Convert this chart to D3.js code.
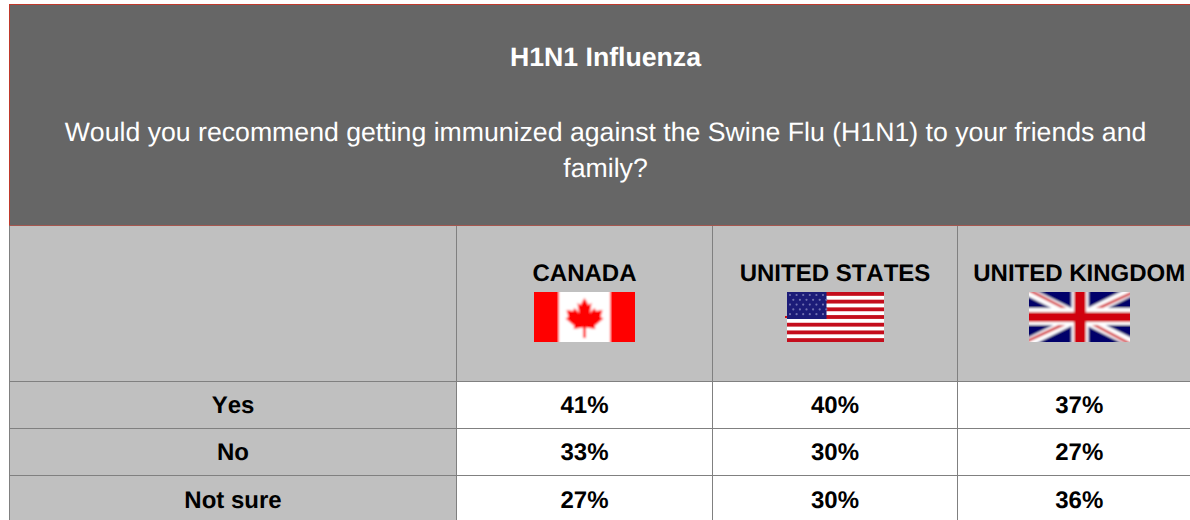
<!DOCTYPE html>
<html>
<head>
<meta charset="utf-8">
<title>H1N1 Influenza</title>
<style>
html, body { margin: 0; padding: 0; background: #fff; overflow: hidden; }
svg { display: block; }
text { font-family: "Liberation Sans", Arial, sans-serif; text-anchor: middle; text-rendering: geometricPrecision; font-kerning: none; }
.title { fill: #fff; font-size: 26.67px; font-weight: bold; }
.question { fill: #fff; font-size: 26.67px; }
.head, .label, .value { fill: #000; font-weight: bold; font-size: 24px; }
</style>
</head>
<body>
<script src="https://cdn.jsdelivr.net/npm/d3@7/dist/d3.min.js"></script>
<script>

var title = "H1N1 Influenza";
var questionLines = ["Would you recommend getting immunized against the Swine Flu (H1N1) to your friends and", "family?"];
var countries = ["CANADA", "UNITED STATES", "UNITED KINGDOM"];
var answers = ["Yes", "No", "Not sure"];
var canada = [41, 33, 27];
var unitedStates = [40, 30, 30];
var unitedKingdom = [37, 27, 36];

var width = 1190,
    height = 520;

var values = [canada, unitedStates, unitedKingdom];

// column and row edges of the table
var colEdges = [9.5, 456.5, 712.5, 957.5, 1201];
var rowEdges = [381.5, 428.5, 475.5, 522.5];

var xCol = d3.scaleOrdinal().domain(countries).range(colEdges.slice(1));
var xEnd = d3.scaleOrdinal().domain(countries).range(colEdges.slice(2));
var yRow = d3.scaleBand().domain(answers).range([rowEdges[0], rowEdges[3]]);
// text baselines do not sit evenly in the rows
var yText = d3.scaleOrdinal().domain(answers).range([413, 460, 508]);

var svg = d3.select("body").append("svg")
    .attr("width", width)
    .attr("height", height);

var defs = svg.append("defs");
defs.append("filter").attr("id", "soft")
    .attr("x", "-2%").attr("y", "-2%").attr("width", "104%").attr("height", "104%")
  .append("feGaussianBlur").attr("stdDeviation", 0.8);
defs.append("filter").attr("id", "softer")
    .attr("x", "-2%").attr("y", "-2%").attr("width", "104%").attr("height", "104%")
  .append("feGaussianBlur").attr("stdDeviation", 0.6);

// clip the blur so the flag edges stay sharp
function flagClip(id, x, w) {
  defs.append("clipPath").attr("id", id)
    .append("rect").attr("x", x).attr("y", 292).attr("width", w).attr("height", 50);
}
flagClip("clipCa", 534, 101);
flagClip("clipUs", 787, 97);
flagClip("clipUk", 1029, 101);

// header band
svg.append("rect").attr("x", 9).attr("y", 4).attr("width", width - 9).attr("height", 222).attr("fill", "#666");
svg.append("rect").attr("x", 9).attr("y", 226).attr("width", width - 9).attr("height", height - 226).attr("fill", "#c0c0c0");

svg.append("text").attr("class", "title").attr("x", 605.5).attr("y", 66).text(title);

svg.selectAll(".question").data(questionLines).enter().append("text")
    .attr("class", "question")
    .attr("x", 605.5)
    .attr("y", function(d, i) { return 141 + i * 36; })
    .text(function(d) { return d; });

// white value cells
countries.forEach(function(c, i) {
  svg.selectAll(".cell" + i).data(answers).enter().append("rect")
      .attr("class", "cell" + i)
      .attr("x", xCol(c))
      .attr("y", function(d) { return yRow(d); })
      .attr("width", xEnd(c) - xCol(c))
      .attr("height", yRow.bandwidth())
      .attr("fill", "#fff");
});

// grid lines
var grid = svg.append("g").attr("stroke", "#808080").attr("stroke-width", 1);
rowEdges.slice(0, 3).forEach(function(y) {
  grid.append("line").attr("x1", 9).attr("x2", width).attr("y1", y).attr("y2", y);
});
colEdges.slice(1, 4).forEach(function(x) {
  grid.append("line").attr("x1", x).attr("x2", x).attr("y1", 226).attr("y2", height);
});

// red edges
svg.append("rect").attr("x", 9).attr("y", 4).attr("width", width - 9).attr("height", 1).attr("fill", "#c0392b");
svg.append("rect").attr("x", 9).attr("y", 4).attr("width", 1).attr("height", 222).attr("fill", "#c0392b");
svg.append("rect").attr("x", 9).attr("y", 225).attr("width", width - 9).attr("height", 1).attr("fill", "#a5574f");
svg.append("rect").attr("x", 9).attr("y", 226).attr("width", 1).attr("height", height - 226).attr("fill", "#808080");

// column heads
svg.selectAll(".head").data(countries).enter().append("text")
    .attr("class", "head")
    .attr("x", function(d) { return (xCol(d) + xEnd(d)) / 2; })
    .attr("y", 281)
    .text(function(d) { return d; });

// row labels
svg.selectAll(".label").data(answers).enter().append("text")
    .attr("class", "label")
    .attr("x", (colEdges[0] + colEdges[1]) / 2)
    .attr("y", function(d) { return yText(d); })
    .text(function(d) { return d; });

// percent values
countries.forEach(function(c, i) {
  svg.selectAll(".value" + i).data(values[i]).enter().append("text")
      .attr("class", "value value" + i)
      .attr("x", (xCol(c) + xEnd(c)) / 2)
      .attr("y", function(d, j) { return yText(answers[j]); })
      .text(function(d) { return d + "%"; });
});

// flags
var ca = svg.append("g").attr("clip-path", "url(#clipCa)").append("g").attr("filter", "url(#soft)");
ca.append("rect").attr("x", 530).attr("y", 288).attr("width", 109).attr("height", 58).attr("fill", "#fff");
ca.append("rect").attr("x", 530).attr("y", 288).attr("width", 29).attr("height", 58).attr("fill", "#f00");
ca.append("rect").attr("x", 610).attr("y", 288).attr("width", 29).attr("height", 58).attr("fill", "#f00");
ca.append("path").attr("fill", "#f00").attr("transform", "translate(584.5,317)")
    .attr("d", "M0,-19 L4,-12 L7,-14 L5.5,-4 L10,-9 L11.5,-6 L18,-7 L16,0 L19,1.5 L10,9 L11,12 L1.3,10.5 L1.3,21 L-1.3,21 L-1.3,10.5 L-11,12 L-10,9 L-19,1.5 L-16,0 L-18,-7 L-11.5,-6 L-10,-9 L-5.5,-4 L-7,-14 L-4,-12 Z");

var us = svg.append("g").attr("clip-path", "url(#clipUs)").append("g").attr("filter", "url(#softer)");
us.append("rect").attr("x", 783).attr("y", 288).attr("width", 105).attr("height", 58).attr("fill", "#fff");
d3.range(7).forEach(function(i) {
  us.append("rect").attr("x", 783).attr("y", 292 + i * 50 / 6.5).attr("width", 105).attr("height", 50 / 13).attr("fill", "#c4111b");
});
us.append("rect").attr("x", 783).attr("y", 288).attr("width", 43.5).attr("height", 31).attr("fill", "#1c1c78");
d3.range(5).forEach(function(r) {
  d3.range(6).forEach(function(k) {
    us.append("circle").attr("cx", 790 + k * 6.6 + (r % 2) * 3.3).attr("cy", 295 + r * 4.8).attr("r", 1.1).attr("fill", "#7070b0");
  });
});
svg.append("rect").attr("x", 785).attr("y", 316).attr("width", 2).attr("height", 2).attr("fill", "#d01010");

var uk = svg.append("g").attr("clip-path", "url(#clipUk)").append("g").attr("filter", "url(#soft)");
uk.append("rect").attr("x", 1025).attr("y", 288).attr("width", 109).attr("height", 58).attr("fill", "#00006b");
uk.append("path").attr("stroke", "#fff").attr("stroke-width", 9).attr("d", "M1025,290 L1134,344 M1134,290 L1025,344");
uk.append("path").attr("stroke", "#d00010").attr("stroke-width", 2.5).attr("d", "M1025,288 L1079.5,316 M1134,292 L1079.5,317 M1025,342 L1079.5,317 M1134,346 L1079.5,317");
uk.append("rect").attr("x", 1025).attr("y", 308).attr("width", 109).attr("height", 17).attr("fill", "#fff");
uk.append("rect").attr("x", 1071.5).attr("y", 288).attr("width", 17).attr("height", 58).attr("fill", "#fff");
uk.append("rect").attr("x", 1025).attr("y", 312).attr("width", 109).attr("height", 10).attr("fill", "#d00010");
uk.append("rect").attr("x", 1074).attr("y", 288).attr("width", 12).attr("height", 58).attr("fill", "#d00010");

</script>
</body>
</html>
